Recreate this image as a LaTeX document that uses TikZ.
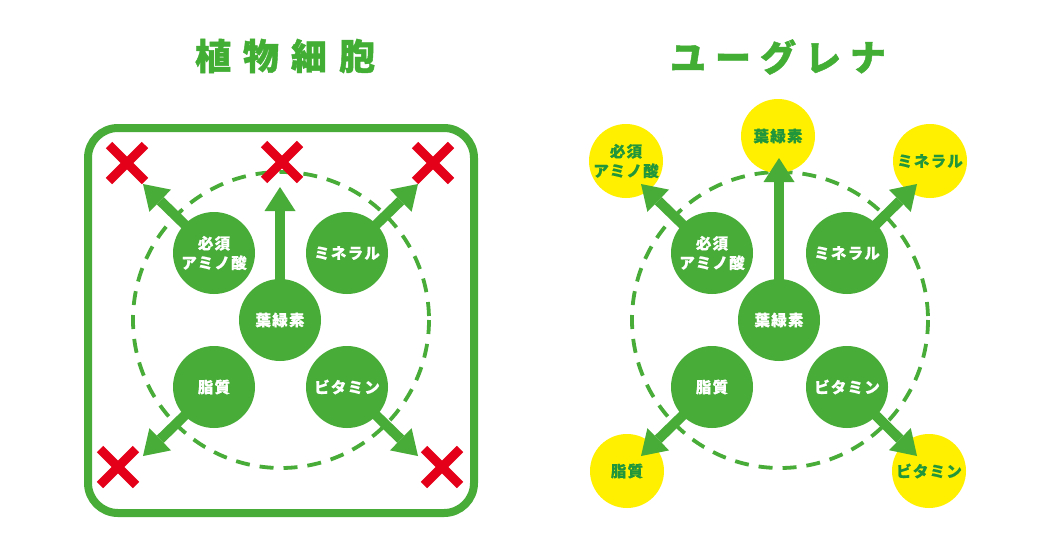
\documentclass[tikz,border=0pt]{standalone}
\usepackage{fontspec}
\newfontfamily\jp{Noto Sans CJK JP}[BoldFeatures={FakeBold=1.2}]
\newfontfamily\jpn{Noto Sans CJK JP}[LetterSpace=8,BoldFeatures={FakeBold=0.5}]
\usetikzlibrary{arrows.meta,shapes.misc}
\definecolor{cgreen}{RGB}{72,172,56}
\definecolor{ctitle}{RGB}{66,174,52}
\definecolor{cdark}{RGB}{34,150,58}
\definecolor{cyellow}{RGB}{255,240,0}
\definecolor{cred}{RGB}{228,0,24}
\tikzset{
  gnode/.style={circle, fill=cgreen, minimum size=82pt, inner sep=0pt, text=white,
    font=\jpn\bfseries\fontsize{15.5}{19.5}\selectfont, align=center},
  ynode/.style={circle, fill=cyellow, minimum size=74pt, inner sep=0pt, text=cdark,
    font=\jpn\bfseries\fontsize{15.5}{19.5}\selectfont, align=center},
  flow/.style={draw=cgreen, line width=10pt,
    -{Triangle[width=31pt,length=24pt,line width=0pt]}, shorten <=-4pt},
  ring/.style={draw=cgreen, line width=3.8pt, dash pattern=on 14pt off 10pt},
  nogo/.style={cross out, draw=cred, line width=9pt, minimum size=27pt, inner sep=0pt},
  frame/.style={draw=cgreen, line width=8pt, rounded corners=30pt},
  title/.style={text=ctitle, font=\jp\bfseries\fontsize{36}{40}\selectfont, inner sep=0pt}
}
\begin{document}
\begin{tikzpicture}[x=1pt,y=-1pt]
\useasboundingbox (0,0) rectangle (1038,546);
\fill[white] (0,0) rectangle (1038,546);

% titles
\node[title] (T1) at (285,56) {植\hspace{12pt}物\hspace{12pt}細\hspace{12pt}胞};
\node[title] (T2) at (778,57) {ユ\hspace{9pt}ー\hspace{9pt}グ\hspace{9pt}レ\hspace{9pt}ナ};

% ---------------- left panel ----------------
\draw[frame] (88,128) rectangle (474,513);
\draw[ring] (281,320) circle[radius=148];

\node[gnode] (La) at (280,320) {葉緑素};
\node[gnode] (Lb) at (214,253) {必須\\アミノ酸};
\node[gnode] (Lc) at (347,253) {ミネラル};
\node[gnode] (Ld) at (214,387) {脂質};
\node[gnode] (Le) at (347,387) {ビタミン};

\coordinate (LtA) at (280,187);
\coordinate (LtB) at (143,184);
\coordinate (LtC) at (418,184);
\coordinate (LtD) at (143,456);
\coordinate (LtE) at (418,456);

\draw[flow] (La) -- (LtA);
\draw[flow] (Lb) -- (LtB);
\draw[flow] (Lc) -- (LtC);
\draw[flow] (Ld) -- (LtD);
\draw[flow] (Le) -- (LtE);

\node[nogo] (Xa) at (282,162) {};
\node[nogo] (Xb) at (127,163) {};
\node[nogo] (Xc) at (433,163) {};
\node[nogo] (Xd) at (118,467) {};
\node[nogo] (Xe) at (442,467) {};

% ---------------- right panel ----------------
\draw[ring] (780,320) circle[radius=148];

\node[ynode] (Ya) at (778,136) {葉緑素};
\node[ynode] (Yb) at (626,161) {必須\\アミノ酸};
\node[ynode] (Yc) at (930,161) {ミネラル};
\node[ynode] (Yd) at (627,471) {脂質};
\node[ynode] (Ye) at (929,471) {ビタミン};

\node[gnode] (Ra) at (779,320) {葉緑素};
\node[gnode] (Rb) at (712,253) {必須\\アミノ酸};
\node[gnode] (Rc) at (847,253) {ミネラル};
\node[gnode] (Rd) at (712,387) {脂質};
\node[gnode] (Re) at (847,387) {ビタミン};

\coordinate (RtA) at (779,158);
\coordinate (RtB) at (641,184);
\coordinate (RtC) at (917,184);
\coordinate (RtD) at (641,456);
\coordinate (RtE) at (917,456);

\draw[flow] (Ra) -- (RtA);
\draw[flow] (Rb) -- (RtB);
\draw[flow] (Rc) -- (RtC);
\draw[flow] (Rd) -- (RtD);
\draw[flow] (Re) -- (RtE);
\end{tikzpicture}
\end{document}
